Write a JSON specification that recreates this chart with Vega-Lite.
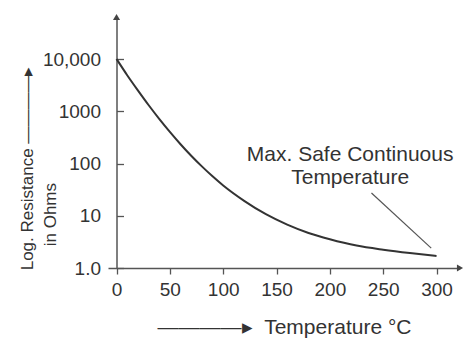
{
  "$schema": "https://vega.github.io/schema/vega-lite/v6.json",
  "width": 352,
  "height": 251,
  "autosize": {"type": "none"},
  "padding": {"left": 108, "top": 17, "right": 5, "bottom": 71},
  "background": "white",
  "config": {"view": {"stroke": null}, "font": "Liberation Sans"},
  "datasets": {
    "curve": [
      {"T": 0, "R": 10000},
      {"T": 10, "R": 4898},
      {"T": 20, "R": 2512},
      {"T": 30, "R": 1318},
      {"T": 40, "R": 716},
      {"T": 50, "R": 403},
      {"T": 60, "R": 234},
      {"T": 70, "R": 141},
      {"T": 80, "R": 88.1},
      {"T": 90, "R": 56.9},
      {"T": 100, "R": 38.0},
      {"T": 120, "R": 19.1},
      {"T": 140, "R": 10.7},
      {"T": 160, "R": 6.76},
      {"T": 180, "R": 4.68},
      {"T": 200, "R": 3.55},
      {"T": 225, "R": 2.69},
      {"T": 250, "R": 2.24},
      {"T": 275, "R": 1.93},
      {"T": 300, "R": 1.7}
    ],
    "pointer": [{"T": 239, "R": 27.2, "T2": 295, "R2": 2.4}],
    "notes": [
      {"T": 219, "R": 145, "label": "Max. Safe Continuous"},
      {"T": 219, "R": 52.7, "label": "Temperature"}
    ],
    "arrows": [
      {"T": 0, "R": 63680, "dir": "up"},
      {"T": 322, "R": 1, "dir": "right"}
    ]
  },
  "encoding": {
    "x": {
      "field": "T",
      "type": "quantitative",
      "scale": {"domain": [-8, 322], "nice": false, "zero": false},
      "axis": {
        "values": [0, 50, 100, 150, 200, 250, 300],
        "grid": false,
        "domainColor": "#555",
        "domainWidth": 1.5,
        "tickColor": "#555",
        "tickWidth": 1.3,
        "tickSize": 6,
        "labelPadding": 6,
        "labelFontSize": 19,
        "labelColor": "#333",
        "labelFont": "Liberation Sans",
        "title": "————▸\u00a0\u00a0Temperature °C",
        "titleFont": "Liberation Sans",
        "titleFontSize": 21,
        "titleFontWeight": "normal",
        "titleColor": "#333",
        "titleAnchor": null,
        "titleAlign": "center",
        "titleBaseline": "middle",
        "titleX": 176,
        "titleY": 59
      }
    },
    "y": {
      "field": "R",
      "type": "quantitative",
      "scale": {"type": "log", "domain": [1, 63680], "nice": false},
      "axis": {
        "values": [1, 10, 100, 1000, 10000],
        "labelExpr": "datum.value == 1 ? '1.0' : datum.value == 10000 ? '10,000' : format(datum.value, 'd')",
        "offset": -8.5,
        "grid": false,
        "domainColor": "#555",
        "domainWidth": 1.5,
        "tickColor": "#555",
        "tickWidth": 1.3,
        "tickSize": -7,
        "labelPadding": 23,
        "labelFontSize": 19,
        "labelColor": "#333",
        "labelFont": "Liberation Sans",
        "labelBound": false,
        "labelFlush": false,
        "title": ["Log. Resistance ————▸", "in Ohms\u00a0\u00a0\u00a0\u00a0\u00a0\u00a0\u00a0\u00a0\u00a0\u00a0\u00a0\u00a0\u00a0\u00a0\u00a0\u00a0\u00a0\u2800"],
        "titleFont": "Liberation Sans",
        "titleFontSize": 17,
        "titleFontWeight": "normal",
        "titleColor": "#333",
        "titleAngle": -90,
        "titleAnchor": null,
        "titleAlign": "center",
        "titleBaseline": "middle",
        "titleLineHeight": 23,
        "titleX": -89,
        "titleY": 151
      }
    }
  },
  "layer": [
    {
      "data": {"name": "curve"},
      "mark": {"type": "line", "interpolate": "monotone", "color": "#333", "strokeWidth": 2}
    },
    {
      "data": {"name": "pointer"},
      "mark": {"type": "rule", "color": "#555", "strokeWidth": 1.2},
      "encoding": {
        "x2": {"field": "T2"},
        "y2": {"field": "R2"}
      }
    },
    {
      "data": {"name": "notes"},
      "mark": {"type": "text", "font": "Liberation Sans", "fontSize": 21, "color": "#333", "align": "center", "baseline": "middle"},
      "encoding": {"text": {"field": "label", "type": "nominal"}}
    },
    {
      "data": {"name": "arrows"},
      "mark": {"type": "point", "filled": true, "color": "#444", "size": 50, "opacity": 1},
      "encoding": {
        "shape": {
          "field": "dir",
          "type": "nominal",
          "scale": {"domain": ["up", "right"], "range": ["triangle-up", "triangle-right"]},
          "legend": null
        }
      }
    }
  ]
}
